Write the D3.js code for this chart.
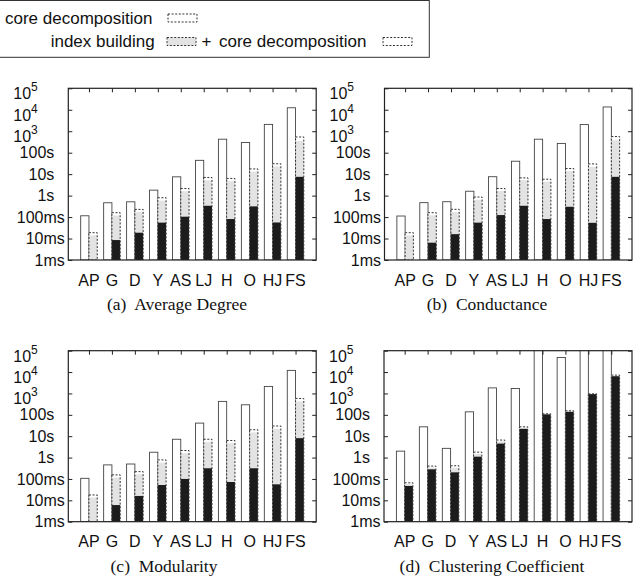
<!DOCTYPE html>
<html>
<head>
<meta charset="utf-8">
<script src="https://cdn.jsdelivr.net/npm/d3@7"></script>
<style>
  body { margin: 0; background: #fff; }
  svg { display: block; }
  .lbl { font-family: "Liberation Sans", Arial, Helvetica, sans-serif; fill: #111; }
  .caption { font-family: "Liberation Serif", "Times New Roman", serif; fill: #111; font-size: 17.5px; }
</style>
</head>
<body>
<svg id="chart" width="641" height="581"></svg>
<script>
// datasets on the x axis
const categories = ['AP', 'G', 'D', 'Y', 'AS', 'LJ', 'H', 'O', 'HJ', 'FS'];

// y axis, values in ms
const yTicks = [1, 10, 100, 1e3, 1e4, 1e5, 1e6, 1e7, 1e8];
const yTickLabels = ['1ms', '10ms', '100ms', '1s', '10s', '100s', '10^3', '10^4', '10^5'];

// (a) Average Degree  (ms)
const baseA  = [115, 465, 515, 1800, 7500, 44000, 425000, 298000, 2080000, 12400000];
const totalA = [18.7, 160, 228, 794, 2150, 7000, 6300, 17500, 30500, 540000];
const indexA = [14, 118, 170, 580, 1600, 5200, 4700, 13000, 22500, 355000];
const queryA = [null, 8.5, 18.7, 55, 104, 336, 81, 315, 56, 7500];

// (b) Conductance
const baseB  = [112, 470, 520, 1600, 7600, 40000, 425000, 270000, 2040000, 13500000];
const totalB = [18.7, 160, 230, 860, 2150, 6700, 5800, 18300, 30000, 565000];
const indexB = [14, 120, 172, 640, 1650, 5200, 4500, 13800, 22000, 380000];
const queryB = [null, 6.4, 16, 55, 124, 336, 81, 302, 54, 7500];

// (c) Modularity
const baseC  = [107, 455, 500, 1780, 7200, 41000, 425000, 295000, 2130000, 12000000];
const totalC = [17.8, 155, 220, 776, 2130, 7200, 6300, 20000, 30000, 585000];
const indexC = [13.5, 115, 165, 580, 1600, 5300, 4700, 15000, 22000, 420000];
const queryC = [null, 6, 16, 52, 100, 316, 72, 316, 56, 8100];

// (d) Clustering Coefficient (H, HJ, FS baselines run off the top)
const baseD  = [2000, 27500, 2700, 138000, 1820000, 1700000, 1e9, 48000000, 1e9, 1e9];
const totalD = [66, 400, 415, 1800, 6600, 27500, 112000, 155000, 960000, 7200000];
const indexD = [58, 340, 330, 1500, 5600, 25000, 109000, 148000, 945000, 6800000];
const queryD = [47, 282, 204, 1100, 4500, 22000, 105000, 138000, 930000, 6400000];

const panels = [
  { key: 'a', caption: '(a)  Average Degree', base: baseA, total: totalA, index: indexA, query: queryA,
    left: 68.3, right: 316.2, top: 88.3, bottom: 260, capX: 177 },
  { key: 'b', caption: '(b)  Conductance', base: baseB, total: totalB, index: indexB, query: queryB,
    left: 384.5, right: 632, top: 88.3, bottom: 260, capX: 487 },
  { key: 'c', caption: '(c)  Modularity', base: baseC, total: totalC, index: indexC, query: queryC,
    left: 68.3, right: 316.2, top: 350.7, bottom: 521.7, capX: 164 },
  { key: 'd', caption: '(d)  Clustering Coefficient', base: baseD, total: totalD, index: indexD, query: queryD,
    left: 384, right: 632, top: 350.7, bottom: 521.7, capX: 492 }
];

const svg = d3.select('#chart');

// ----------------------------------------------
// Legend (cut off on the left in the original)
// ----------------------------------------------
function drawLegend() {
  const lg = svg.append('g');
  lg.append('rect')
    .attr('x', -2).attr('y', 0.5).attr('width', 431.3).attr('height', 56.8)
    .attr('fill', 'none').attr('stroke', '#333').attr('stroke-width', 1);

  const texts = [
    { text: 'core decomposition', x: 5, y: 18 },
    { text: 'index building', x: 50.7, y: 41.5 },
    { text: '+', x: 201.5, y: 41.5 },
    { text: 'core decomposition', x: 219, y: 41.5 }
  ];
  const swatches = [
    { x: 168, y: 18, fill: '#fff' },
    { x: 167, y: 41.5, fill: '#e3e3e3' },
    { x: 383, y: 41.5, fill: '#fff' }
  ];
  texts.forEach(t => {
    lg.append('text').attr('class', 'lbl')
      .attr('x', t.x).attr('y', t.y).attr('dy', '0.35em')
      .style('font-size', '17px').text(t.text);
  });
  swatches.forEach(s => {
    lg.append('rect')
      .attr('x', s.x).attr('y', s.y - 4).attr('width', 29).attr('height', 8)
      .attr('fill', s.fill).attr('stroke', '#333').attr('stroke-width', 1)
      .attr('stroke-dasharray', '2,1.6');
  });
}

// ----------------------------------------------
// One panel
// ----------------------------------------------
function drawPanel(p) {
  const g = svg.append('g');
  const x = d3.scaleLinear().domain([-0.9, 9.9]).range([p.left, p.right]);
  const y = d3.scaleLog().domain([1, 1e8]).range([p.bottom, p.top]);
  const bw = x(0.36) - x(0);

  const clipId = 'clip-' + p.key;
  g.append('clipPath').attr('id', clipId)
    .append('rect').attr('x', p.left).attr('y', p.top)
    .attr('width', p.right - p.left).attr('height', p.bottom - p.top);

  const bars = g.append('g').attr('clip-path', `url(#${clipId})`);
  const idx = d3.range(categories.length);

  // baseline: core decomposition alone (left bar)
  bars.selectAll('rect.base').data(idx).join('rect')
    .attr('class', 'base')
    .attr('x', i => x(i) - bw).attr('width', bw)
    .attr('y', i => y(p.base[i])).attr('height', i => y(1) - y(p.base[i]))
    .attr('fill', '#fff').attr('stroke', '#444').attr('stroke-width', 0.9);

  // right bar: white cap, grey index building, black query
  bars.selectAll('rect.total').data(idx).join('rect')
    .attr('class', 'total')
    .attr('x', i => x(i)).attr('width', bw)
    .attr('y', i => y(p.total[i])).attr('height', i => y(1) - y(p.total[i]))
    .attr('fill', '#fff');

  bars.selectAll('rect.index').data(idx).join('rect')
    .attr('class', 'index')
    .attr('x', i => x(i)).attr('width', bw)
    .attr('y', i => y(p.index[i])).attr('height', i => y(1) - y(p.index[i]))
    .attr('fill', '#e3e3e3');

  bars.selectAll('rect.query').data(idx.filter(i => p.query[i] != null)).join('rect')
    .attr('class', 'query')
    .attr('x', i => x(i)).attr('width', bw)
    .attr('y', i => y(p.query[i])).attr('height', i => y(1) - y(p.query[i]))
    .attr('fill', '#1c1c1c');

  bars.selectAll('rect.outline').data(idx).join('rect')
    .attr('class', 'outline')
    .attr('x', i => x(i)).attr('width', bw)
    .attr('y', i => y(p.total[i])).attr('height', i => y(1) - y(p.total[i]))
    .attr('fill', 'none').attr('stroke', '#333').attr('stroke-width', 1)
    .attr('stroke-dasharray', '2,1.6');

  // ticks, mirrored on all sides, pointing inwards
  const noDomain = s => s.select('.domain').remove();
  g.append('g').attr('transform', `translate(${p.left},0)`)
    .call(d3.axisLeft(y).tickValues(yTicks).tickSize(-4).tickFormat(''))
    .call(noDomain);
  g.append('g').attr('transform', `translate(${p.right},0)`)
    .call(d3.axisRight(y).tickValues(yTicks).tickSize(-4).tickFormat(''))
    .call(noDomain);
  g.append('g').attr('transform', `translate(0,${p.top})`)
    .call(d3.axisTop(x).tickValues(idx).tickSize(-4).tickFormat(''))
    .call(noDomain);
  g.selectAll('.tick line').attr('stroke', '#222');

  // frame
  g.append('rect')
    .attr('x', p.left).attr('y', p.top)
    .attr('width', p.right - p.left).attr('height', p.bottom - p.top)
    .attr('fill', 'none').attr('stroke', '#222').attr('stroke-width', 1.2);

  // y tick labels (gnuplot style alignment)
  yTicks.forEach((v, k) => {
    const label = yTickLabels[k];
    if (label.includes('^')) {
      const [b, e] = label.split('^');
      const t = g.append('text').attr('class', 'lbl')
        .attr('x', p.left - 55).attr('y', y(v) + 11)
        .style('font-size', '16px');
      t.append('tspan').text(b);
      t.append('tspan').attr('dy', -8).style('font-size', '12px').text(e);
    } else {
      const shift = label.endsWith('ms') ? 3.5 : 14;
      g.append('text').attr('class', 'lbl')
        .attr('x', p.left - shift).attr('y', y(v)).attr('dy', '0.35em')
        .attr('text-anchor', 'end').style('font-size', '16px')
        .text(label);
    }
  });

  // category labels
  g.selectAll('text.cat').data(categories).join('text')
    .attr('class', 'lbl cat')
    .attr('x', (d, i) => x(i)).attr('y', p.bottom + 20).attr('dy', '0.35em')
    .attr('text-anchor', 'middle').style('font-size', '16px')
    .text(d => d);

  // caption
  g.append('text').attr('class', 'caption')
    .attr('x', p.capX).attr('y', p.bottom + 44).attr('dy', '0.35em')
    .attr('text-anchor', 'middle').style('white-space', 'pre')
    .text(p.caption);
}

drawLegend();
panels.forEach(drawPanel);
</script>
</body>
</html>
